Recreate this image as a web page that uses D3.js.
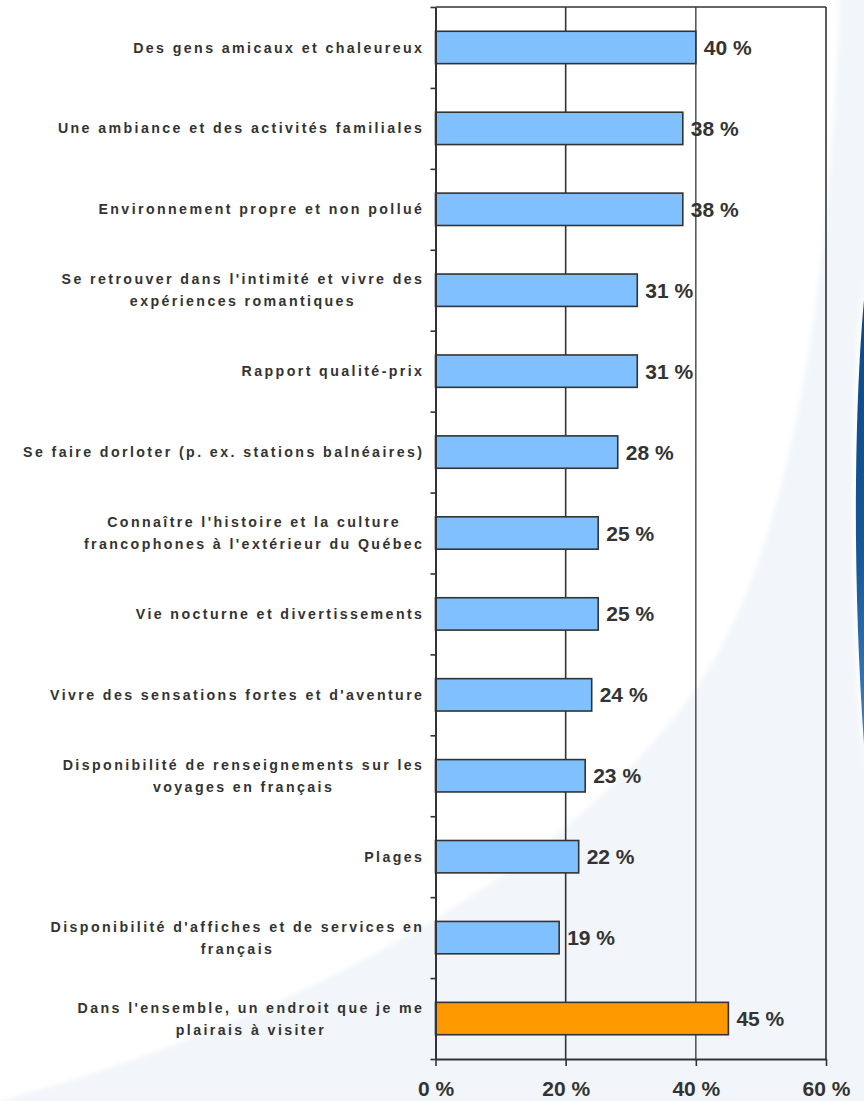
<!DOCTYPE html>
<html>
<head>
<meta charset="utf-8">
<script src="https://cdn.jsdelivr.net/npm/d3@7/dist/d3.min.js"></script>
<style>
  html, body { margin: 0; padding: 0; background: #ffffff; }
  svg { display: block; }
</style>
</head>
<body>
<svg id="chart" width="864" height="1101"></svg>
<script>
// Category labels (each entry is a list of text lines)
const categories = [
  ["Des gens amicaux et chaleureux"],
  ["Une ambiance et des activités familiales"],
  ["Environnement propre et non pollué"],
  ["Se retrouver dans l'intimité et vivre des", "expériences romantiques"],
  ["Rapport qualité-prix"],
  ["Se faire dorloter (p. ex. stations balnéaires)"],
  ["Connaître l'histoire et la culture", "francophones à l'extérieur du Québec"],
  ["Vie nocturne et divertissements"],
  ["Vivre des sensations fortes et d'aventure"],
  ["Disponibilité de renseignements sur les", "voyages en français"],
  ["Plages"],
  ["Disponibilité d'affiches et de services en", "français"],
  ["Dans l'ensemble, un endroit que je me", "plairais à visiter"]
];
// Percentages
const values = [40, 38, 38, 31, 31, 28, 25, 25, 24, 23, 22, 19, 45];
// Which bars are the overall summary
const highlight = [false, false, false, false, false, false, false, false, false, false, false, false, true];
// Axis ticks
const xTicks = [0, 20, 40, 60];

const svg = d3.select("#chart");
const W = 864, H = 1101;
const plotLeft = 435.5, plotRight = 826, plotTop = 7, plotBottom = 1059;

// ---- background decoration ----
const defs = svg.append("defs");
defs.append("filter").attr("id", "soft")
  .attr("x", "-10%").attr("y", "-10%").attr("width", "120%").attr("height", "120%")
  .append("feGaussianBlur").attr("stdDeviation", 2.5);
const blueGrad = defs.append("linearGradient").attr("id", "blueGrad")
  .attr("x1", 0).attr("y1", 0).attr("x2", 0).attr("y2", 1);
blueGrad.append("stop").attr("offset", "0%").attr("stop-color", "#0b4686");
blueGrad.append("stop").attr("offset", "55%").attr("stop-color", "#165796");
blueGrad.append("stop").attr("offset", "100%").attr("stop-color", "#4585c2");

svg.append("rect").attr("width", W).attr("height", H).attr("fill", "#ffffff");
svg.append("path")
  .attr("d", "M-20,1110 L0,1101 C300,1020 600,860 720,650 C790,520 830,300 840,-10 L880,-10 L880,1120 Z")
  .attr("fill", "#f2f5fa")
  .attr("filter", "url(#soft)");
svg.append("path")
  .attr("d", "M866,276 C851,400 850,600 866,772 Z")
  .attr("fill", "#ffffff")
  .attr("transform", "translate(-2,0)")
  .attr("filter", "url(#soft)");
svg.append("path")
  .attr("d", "M866,280 C853,400 852,600 866,770 Z")
  .attr("fill", "url(#blueGrad)");

// ---- scales ----
const ids = d3.range(categories.length);
const x = d3.scaleLinear().domain([0, 60]).range([plotLeft, plotRight]);
const y = d3.scaleBand().domain(ids).range([plotTop, plotBottom]).paddingInner(0.6).paddingOuter(0.3);
const yEdge = d3.scaleLinear().domain([0, categories.length]).range([plotTop, plotBottom]);

const ink = "#333333";

// ---- gridlines and frame ----
svg.append("g")
  .selectAll("line")
  .data(xTicks.filter(d => d > 0))
  .join("line")
  .attr("x1", d => x(d)).attr("x2", d => x(d))
  .attr("y1", plotTop).attr("y2", plotBottom)
  .attr("stroke", d => d === 40 ? "#444444" : ink)
  .attr("stroke-width", d => d === 40 ? 1.4 : 1.6);
svg.append("line")
  .attr("x1", plotLeft).attr("x2", plotRight).attr("y1", plotTop).attr("y2", plotTop)
  .attr("stroke", ink).attr("stroke-width", 1.6);

// ---- bars ----
svg.append("g")
  .selectAll("rect")
  .data(ids)
  .join("rect")
  .attr("x", x(0))
  .attr("y", i => y(i))
  .attr("width", i => x(values[i]) - x(0))
  .attr("height", y.bandwidth())
  .attr("fill", i => highlight[i] ? "#ff9900" : "#80c0ff")
  .attr("stroke", ink)
  .attr("stroke-width", 1.6);

// ---- value labels ----
svg.append("g")
  .selectAll("text")
  .data(ids)
  .join("text")
  .attr("x", i => x(values[i]) + 8)
  .attr("y", i => y(i) + y.bandwidth() / 2)
  .attr("dy", "0.36em")
  .attr("font-family", "Liberation Sans, Arial, sans-serif")
  .attr("font-weight", "bold")
  .attr("font-size", 21)
  .attr("fill", ink)
  .text(i => values[i] + " %");

// ---- left axis (ticks at category boundaries) ----
const yAxis = svg.append("g")
  .attr("transform", `translate(${plotLeft},0)`)
  .call(d3.axisLeft(yEdge).tickValues(d3.range(categories.length + 1)).tickFormat("").tickSize(5).tickSizeOuter(0));
yAxis.select(".domain").attr("stroke", ink).attr("stroke-width", 2);
yAxis.selectAll(".tick line").attr("stroke", ink).attr("stroke-width", 1.6);

// ---- bottom axis ----
const xAxis = svg.append("g")
  .attr("transform", `translate(0,${plotBottom})`)
  .call(d3.axisBottom(x).tickValues(xTicks).tickFormat(d => d + " %").tickSize(7).tickSizeOuter(0).tickPadding(15.5));
xAxis.select(".domain").attr("stroke", ink).attr("stroke-width", 2);
xAxis.selectAll(".tick line").attr("stroke", ink).attr("stroke-width", 1.6);
xAxis.selectAll(".tick text")
  .attr("font-family", "Liberation Sans, Arial, sans-serif")
  .attr("font-weight", "bold")
  .attr("font-size", 21)
  .attr("fill", ink);

// ---- category labels: block right-aligned, lines centred in block ----
const labelSpacing = 2.4;
const labelRight = 422 + labelSpacing;
const lineGap = 22;
const catG = svg.append("g");
ids.forEach(i => {
  const lines = categories[i];
  const cy = y(i) + y.bandwidth() / 2;
  const g = catG.append("g");
  const texts = lines.map((ln, k) => g.append("text")
    .attr("y", cy + (k - (lines.length - 1) / 2) * lineGap)
    .attr("dy", "0.36em")
    .attr("text-anchor", "middle")
    .attr("font-family", "Liberation Sans, Arial, sans-serif")
    .attr("font-weight", "bold")
    .attr("font-size", 14.2)
    .attr("letter-spacing", labelSpacing)
    .attr("fill", ink)
    .text(ln));
  const widest = d3.max(texts, t => t.node().getComputedTextLength());
  texts.forEach(t => t.attr("x", labelRight - widest / 2));
});
</script>
</body>
</html>
